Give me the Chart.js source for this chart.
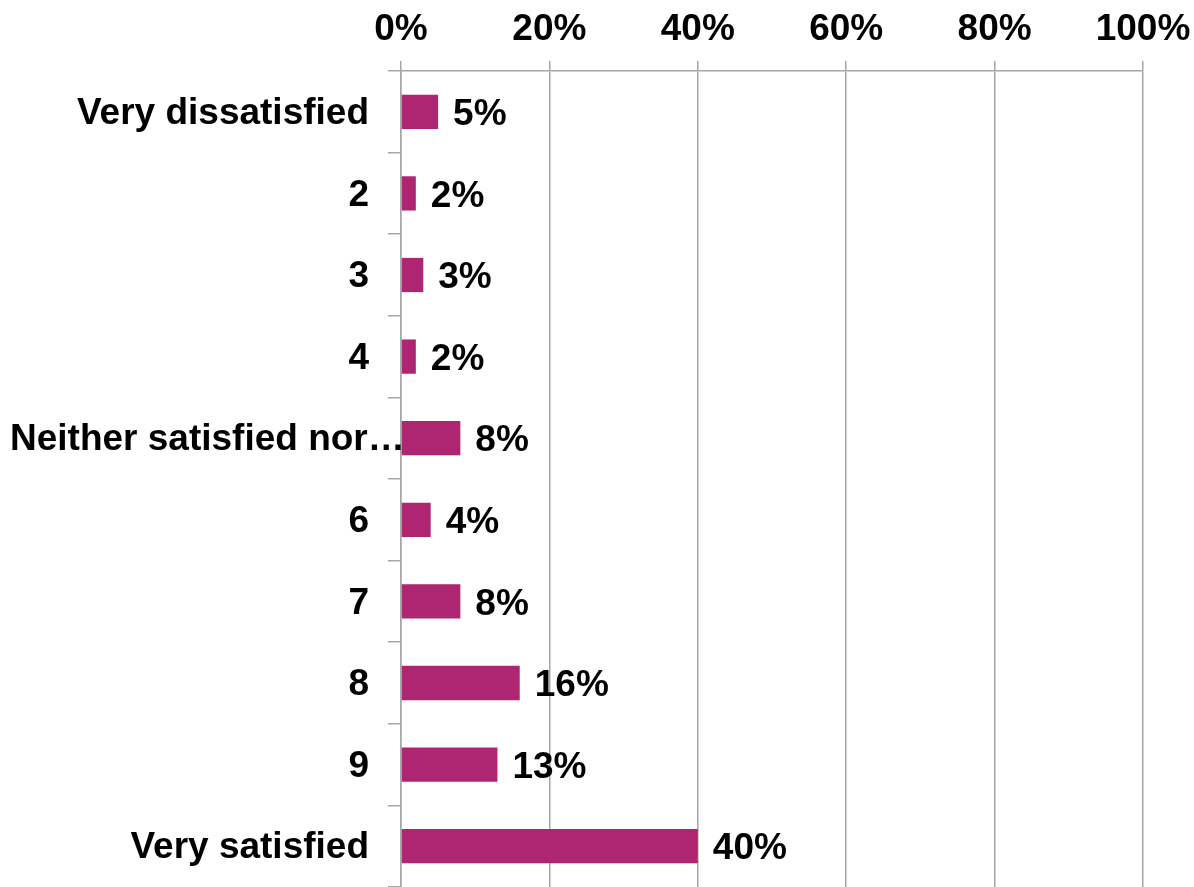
<!DOCTYPE html>
<html>
<head>
<meta charset="utf-8">
<script src="https://cdn.jsdelivr.net/npm/chart.js@4/dist/chart.umd.min.js"></script>
<style>
  body { margin: 0; background: #ffffff; }
  #wrap { position: relative; width: 1194px; height: 887px; }
</style>
</head>
<body>
<div id="wrap"><canvas id="satisfaction"></canvas></div>
<script>
const categories = [
  'Very dissatisfied', '2', '3', '4', 'Neither satisfied nor dissatisfied',
  '6', '7', '8', '9', 'Very satisfied'
];
const shares = [5, 2, 3, 2, 8, 4, 8, 16, 13, 40];
const percentTicks = [0, 20, 40, 60, 80, 100];

const barColor = '#ae2572';
const lineColor = '#a6a6a6';
const fontFamily = '"Liberation Sans", Arial, sans-serif';
const fontSize = 37;
const cssFont = 'bold ' + fontSize + 'px ' + fontFamily;

// width the category labels have before they run into the axis
const labelRoom = 352;
const measureCtx = document.createElement('canvas').getContext('2d');
const textWidth = (t) => { measureCtx.font = cssFont; return measureCtx.measureText(t).width; };

// long category names get cut with an ellipsis and start at the left edge
const overflowLabels = {
  id: 'overflowLabels',
  afterDraw(chart) {
    const yScale = chart.scales.y;
    const ctx = chart.ctx;
    ctx.save();
    ctx.font = cssFont;
    ctx.fillStyle = '#000000';
    ctx.textAlign = 'left';
    ctx.textBaseline = 'middle';
    const left = 10;
    const room = yScale.right - left + 6;
    categories.forEach((name, i) => {
      if (textWidth(name) <= labelRoom) return;
      let cut = name;
      while (cut.length && ctx.measureText(cut.trimEnd() + '\u2026').width > room) {
        cut = cut.slice(0, -1);
      }
      ctx.fillText(cut.trimEnd() + '\u2026', left, yScale.getPixelForTick(i) + 2);
    });
    ctx.restore();
  }
};

// value labels to the right of each bar
const valueLabels = {
  id: 'valueLabels',
  afterDatasetsDraw(chart) {
    const ctx = chart.ctx;
    const meta = chart.getDatasetMeta(0);
    ctx.save();
    ctx.font = cssFont;
    ctx.fillStyle = '#000000';
    ctx.textAlign = 'left';
    ctx.textBaseline = 'middle';
    meta.data.forEach((bar, i) => {
      ctx.fillText(Math.round(shares[i]) + '%', bar.x + 15, bar.y + 3);
    });
    ctx.restore();
  }
};

new Chart(document.getElementById('satisfaction'), {
  type: 'bar',
  data: {
    labels: categories,
    datasets: [{
      data: shares,
      backgroundColor: barColor,
      borderWidth: 0,
      barPercentage: 0.42,
      categoryPercentage: 1
    }]
  },
  options: {
    indexAxis: 'y',
    responsive: true,
    maintainAspectRatio: false,
    animation: false,
    layout: { padding: { left: 0, right: 51, top: 0, bottom: 0 } },
    plugins: {
      legend: { display: false },
      tooltip: { enabled: false }
    },
    scales: {
      x: {
        position: 'top',
        min: 0,
        max: 100,
        afterBuildTicks: (scale) => { scale.ticks = percentTicks.map(v => ({ value: v })); },
        afterFit: (scale) => {
          scale.height = 71;
          scale.paddingLeft = 0;
          scale.paddingRight = 0;
        },
        grid: { color: lineColor, lineWidth: 1.5, tickLength: 10, drawTicks: true },
        border: { display: true, color: lineColor, width: 1.5 },
        ticks: {
          color: '#000000',
          padding: 9,
          maxRotation: 0,
          font: { family: fontFamily, size: fontSize, weight: 'bold' },
          callback: (v) => v + '%'
        }
      },
      y: {
        afterFit: (scale) => {
          scale.width = 401;
          scale.paddingTop = 0;
          scale.paddingBottom = 0;
        },
        grid: {
          offset: true,
          drawOnChartArea: false,
          color: lineColor,
          lineWidth: 1.5,
          tickLength: 13
        },
        border: { display: true, color: lineColor, width: 1.5 },
        ticks: {
          color: '#000000',
          padding: 19,
          labelOffset: 2,
          autoSkip: false,
          font: { family: fontFamily, size: fontSize, weight: 'bold' },
          callback: (v, i) => textWidth(categories[i]) <= labelRoom ? categories[i] : ''
        }
      }
    }
  },
  plugins: [valueLabels, overflowLabels]
});
</script>
</body>
</html>
